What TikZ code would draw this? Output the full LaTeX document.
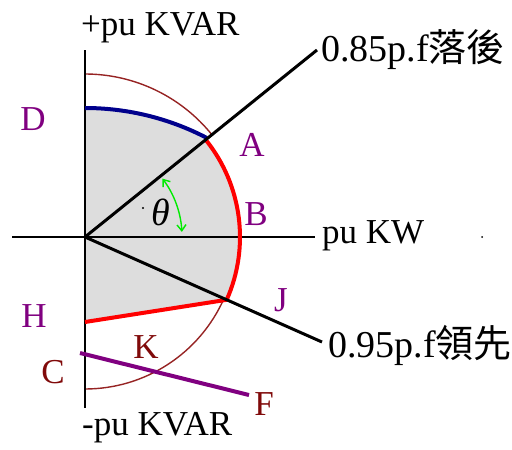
\documentclass[tikz,border=0pt]{standalone}
\usepackage{fontspec}
\setmainfont{Liberation Serif}
\newfontfamily\cjkfont{Noto Sans CJK TC}
\usetikzlibrary{calc,arrows.meta}
\definecolor{lblpurple}{RGB}{128,0,128}
\definecolor{lblbrown}{RGB}{128,10,10}
\definecolor{arcbrown}{RGB}{150,35,35}
\definecolor{navyblue}{RGB}{0,0,140}
\definecolor{fillgray}{RGB}{221,221,221}
\definecolor{brightgreen}{RGB}{0,235,0}
\begin{document}
\begin{tikzpicture}[x=1pt,y=-1pt,
  font=\fontsize{35}{38}\selectfont,
  axisline/.style={line width=2pt,black},
  pfline/.style={line width=3pt,black},
  thinarc/.style={line width=1.4pt,arcbrown},
  bluearc/.style={line width=4pt,navyblue},
  redcurve/.style={line width=4pt,red},
  purpleline/.style={line width=4pt,lblpurple},
  anglearc/.style={line width=1.4pt,brightgreen,{Straight Barb[length=6pt,width=9pt]}-{Straight Barb[length=6pt,width=9pt]}},
  ptlbl/.style={anchor=base,inner sep=0pt},
  axlbl/.style={anchor=base west,inner sep=0pt},
  pflbl/.style={anchor=base west,inner sep=0pt,font=\fontsize{38}{41}\selectfont}]
\useasboundingbox (0,0) rectangle (512,450);
% key points
\coordinate (O) at (85,237);
\coordinate (A) at ($(O)+(-38.8:155)$);
\coordinate (J) at ($(O)+(23.9:155)$);
\coordinate (D) at (85,108);
\coordinate (H) at (85,322);
\coordinate (Top) at (85,50);
\coordinate (Bot) at (85,408);
\coordinate (Left) at (12,237);
\coordinate (Right) at (315,237);
\coordinate (P85) at (317,50);
\coordinate (P95) at (322,342);
\coordinate (Cend) at (80,353);
\coordinate (Fend) at (249,395);
\coordinate (BrTop) at ($(O)+(0,-163)$);
\coordinate (BrLow) at ($(O)+(23.9:152)$);
\coordinate (GrStart) at ($(O)+(-37:97)$);
% shaded region
\fill[fillgray] (D) arc[start angle=-90,end angle=-62.4,radius=263] -- (A)
  arc[start angle=-38.8,end angle=23.9,radius=155] -- (H) -- cycle;
% thin brown circle
\draw[thinarc] (BrTop) arc[start angle=-90,end angle=-38.6,radius=163];
\draw[thinarc] (BrLow) arc[start angle=23.9,end angle=90,radius=152];
% axes
\draw[axisline] (Top) -- (Bot);
\draw[axisline] (Left) -- (Right);
% curves
\draw[bluearc] (D) arc[start angle=-90,end angle=-62.4,radius=263];
\draw[redcurve] (A) arc[start angle=-38.8,end angle=23.9,radius=155];
\draw[redcurve] (J) -- (H);
\draw[purpleline] (Cend) -- (Fend);
% power factor lines
\draw[pfline] (O) -- (P85);
\draw[pfline] (O) -- (P95);
% angle
\draw[anglearc] (GrStart) arc[start angle=-37,end angle=-3,radius=97];
\node[font=\fontsize{38}{40}\selectfont\itshape] (th) at (161,212) {θ};
\fill (143,208) circle (1.1pt);
\fill (482,237) circle (1pt);
% point labels
\node[ptlbl,text=lblpurple] (lD) at (33,130) {D};
\node[ptlbl,text=lblpurple] (lA) at (252,156) {A};
\node[ptlbl,text=lblpurple] (lB) at (256,225) {B};
\node[ptlbl,text=lblpurple] (lH) at (34,327) {H};
\node[ptlbl,text=lblpurple] (lJ) at (281,311) {J};
\node[ptlbl,text=lblbrown] (lK) at (146,358) {K};
\node[ptlbl,text=lblbrown] (lC) at (53,383) {C};
\node[ptlbl,text=lblbrown] (lF) at (264,415) {F};
% axis labels
\node[axlbl] (ltop) at (81,35) {+pu KVAR};
\node[axlbl] (lbot) at (82,435) {-pu KVAR};
\node[axlbl] (lkw) at (322,243) {pu KW};
\node[pflbl] (l85) at (321,61) {0.85p.f{\cjkfont 落後}};
\node[pflbl] (l95) at (328,357) {0.95p.f{\cjkfont 領先}};
\end{tikzpicture}
\end{document}
